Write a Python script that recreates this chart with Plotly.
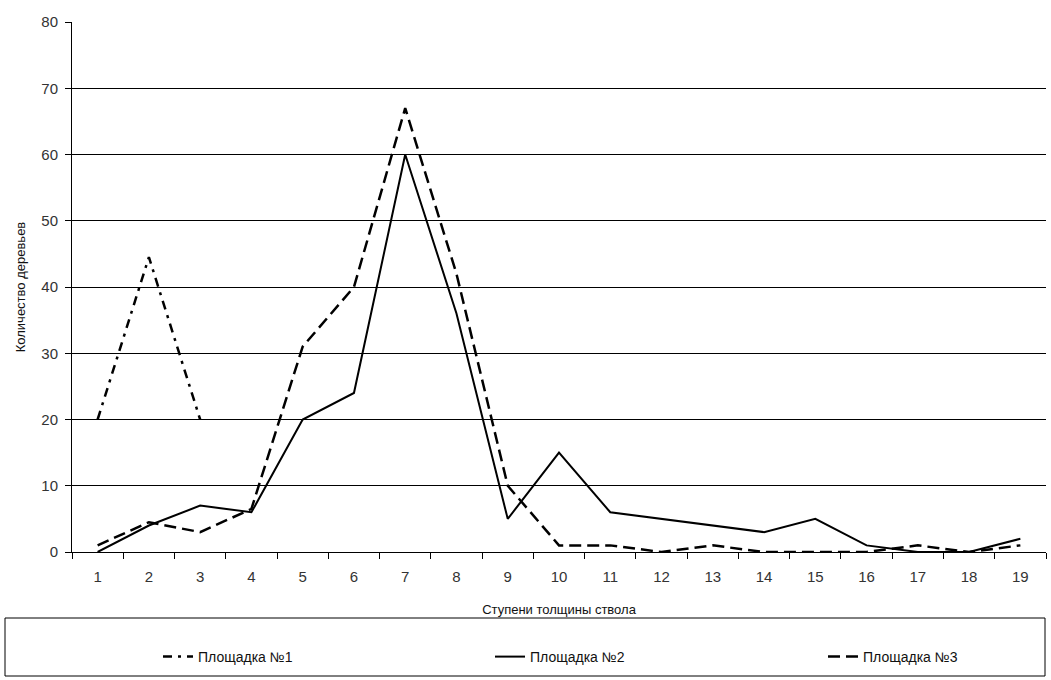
import plotly.graph_objects as go

categories = [str(i) for i in range(1, 20)]
plot1 = [20, 44.5, 20] + [None] * 16
plot2 = [0, 4, 7, 6, 20, 24, 60, 36, 5, 15, 6, 5, 4, 3, 5, 1, 0, 0, 2]
plot3 = [1, 4.5, 3, 6.5, 31, 40, 67, 42, 10, 1, 1, 0, 1, 0, 0, 0, 1, 0, 1]
names = ["Площадка №1", "Площадка №2", "Площадка №3"]
x_title = "Ступени толщины ствола"
y_title = "Количество деревьев"
y_ticks = [0, 10, 20, 30, 40, 50, 60, 70, 80]

FONT = "Liberation Sans, Arial, sans-serif"

fig = go.Figure()
fig.add_trace(go.Scatter(x=categories, y=plot1, mode="lines", name=names[0],
                         line=dict(color="black", width=2.5, dash="9px,6px,3px,6px"),
                         connectgaps=False, legend="legend", showlegend=True))
fig.add_trace(go.Scatter(x=categories, y=plot2, mode="lines", name=names[1],
                         line=dict(color="black", width=2), legend="legend2",
                         showlegend=True))
fig.add_trace(go.Scatter(x=categories, y=plot3, mode="lines", name=names[2],
                         line=dict(color="black", width=2.5, dash="12px,6px"),
                         legend="legend3", showlegend=True))

W, H = 1051, 680
ml, mr, mt, mb = 72, 5, 22, 128
pw = W - ml - mr
ph = H - mt - mb

def px2paper_x(px):
    return (px - ml) / pw

def py2paper_y(py):
    return (H - mb - py) / ph

legend_common = dict(font=dict(family=FONT, size=14, color="#111"),
                     bgcolor="rgba(0,0,0,0)", borderwidth=0,
                     xanchor="left", yanchor="middle", orientation="h")

fig.update_layout(
    width=W, height=H,
    showlegend=True,
    margin=dict(l=ml, r=mr, t=mt, b=mb),
    paper_bgcolor="white", plot_bgcolor="white",
    font=dict(family=FONT, color="#222"),
    legend=dict(x=px2paper_x(158), y=py2paper_y(657), **legend_common),
    legend2=dict(x=px2paper_x(490), y=py2paper_y(657), **legend_common),
    legend3=dict(x=px2paper_x(823), y=py2paper_y(657), **legend_common),
    xaxis=dict(type="category", range=[-0.5, 18.5], tickson="boundaries",
               ticks="outside", ticklen=6, tickcolor="black",
               ticklabelstandoff=11,
               showline=True, linecolor="black", linewidth=1,
               showgrid=False, tickfont=dict(family=FONT, size=15, color="#333"),
               title=dict(text=x_title, font=dict(family=FONT, size=13, color="#111"),
                          standoff=20)),
    yaxis=dict(range=[0, 80], tickvals=y_ticks, ticks="outside", ticklen=6,
               tickcolor="black", showline=True, linecolor="black", linewidth=1,
               ticklabelstandoff=4,
               showgrid=True, gridcolor="black", gridwidth=1, zeroline=False,
               tickfont=dict(family=FONT, size=15, color="#333"),
               title=dict(text=y_title, font=dict(family=FONT, size=13, color="#111"),
                          standoff=12)),
    shapes=[dict(type="rect", xref="paper", yref="paper",
                 x0=px2paper_x(5), x1=px2paper_x(1045),
                 y0=py2paper_y(676), y1=py2paper_y(618),
                 line=dict(color="black", width=1), fillcolor="rgba(0,0,0,0)")],
)

fig.write_html("out.html")
